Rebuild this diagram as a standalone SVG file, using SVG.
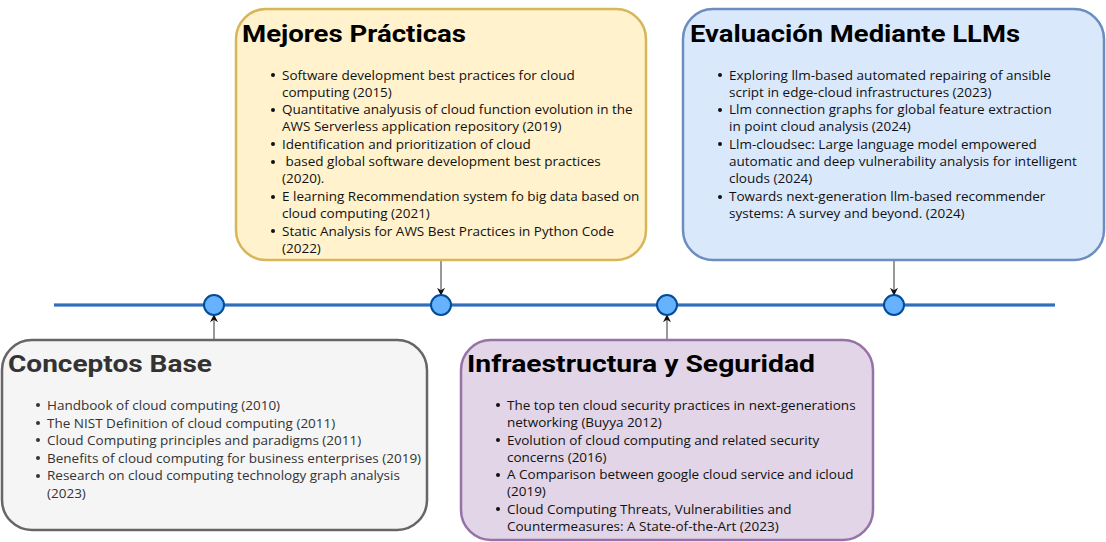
<svg xmlns="http://www.w3.org/2000/svg" width="1106" height="542" viewBox="0 0 1106 542">
<defs>
<style>
.title{font-family:Roboto,"Liberation Sans",sans-serif;font-weight:bold;font-size:24px;fill:#000}
.body{font-family:"Open Sans","Liberation Sans",sans-serif;font-size:13.5px;fill:#111}
.dot{fill:#111}
.conn{stroke:#333;stroke-width:1;fill:none;marker-end:url(#arr)}
.node{fill:#66B2FF;stroke:#004C99;stroke-width:2}
</style>
<marker id="arr" viewBox="0 0 10 10" refX="9" refY="5" markerWidth="8" markerHeight="8" orient="auto" markerUnits="userSpaceOnUse">
<path d="M0,0 L10,5 L0,10 L3,5 Z" fill="#111"/>
</marker>
</defs>
<rect width="1106" height="542" fill="#fff"/>

<g id="timeline">
<line x1="54" y1="305" x2="1055" y2="305" stroke="#7EA6E0" stroke-width="4"/>
<line x1="54" y1="305" x2="1055" y2="305" stroke="#1A5CA8" stroke-width="1.5"/>
</g>

<g id="connectors">
<line class="conn" x1="441" y1="261" x2="441" y2="295"/>
<line class="conn" x1="894" y1="261" x2="894" y2="295"/>
<line class="conn" x1="214" y1="340" x2="214" y2="315"/>
<line class="conn" x1="667" y1="340" x2="667" y2="315"/>
</g>

<g id="points">
<ellipse class="node" cx="214" cy="305" rx="10" ry="10"/>
<ellipse class="node" cx="441" cy="305" rx="10" ry="10"/>
<ellipse class="node" cx="667" cy="305" rx="10" ry="10"/>
<ellipse class="node" cx="894" cy="305" rx="10" ry="10"/>
</g>

<g id="mejores">
<rect x="236" y="9" width="410" height="251" rx="30" ry="30" fill="#FFF2CC" stroke="#D6B656" stroke-width="2.5"/>
<text class="title" x="242" y="42" textLength="224" lengthAdjust="spacingAndGlyphs">Mejores Prácticas</text>
<g class="body">
<circle class="dot" cx="273" cy="75" r="2"/><text x="282" y="80">Software development best practices for cloud</text>
<text x="282" y="97">computing (2015)</text>
<circle class="dot" cx="273" cy="110" r="2"/><text x="282" y="114">Quantitative analyusis of cloud function evolution in the</text>
<text x="282" y="131">AWS Serverless application repository (2019)</text>
<circle class="dot" cx="273" cy="144" r="2"/><text x="282" y="149">Identification and prioritization of cloud</text>
<circle class="dot" cx="273" cy="162" r="2"/><text x="282" y="166" xml:space="preserve"> based global software development best practices</text>
<text x="282" y="183">(2020).</text>
<circle class="dot" cx="273" cy="197" r="2"/><text x="282" y="201">E learning Recommendation system fo big data based on</text>
<text x="282" y="218">cloud computing (2021)</text>
<circle class="dot" cx="273" cy="231" r="2"/><text x="282" y="236">Static Analysis for AWS Best Practices in Python Code</text>
<text x="282" y="253">(2022)</text>
</g>
</g>

<g id="evaluacion">
<rect x="683" y="9" width="421" height="251" rx="30" ry="30" fill="#DAE8FC" stroke="#6C8EBF" stroke-width="2.5"/>
<text class="title" x="690" y="42" textLength="330" lengthAdjust="spacingAndGlyphs">Evaluación Mediante LLMs</text>
<g class="body">
<circle class="dot" cx="720" cy="75" r="2"/><text x="729" y="80">Exploring llm-based automated repairing of ansible</text>
<text x="729" y="97">script in edge-cloud infrastructures (2023)</text>
<circle class="dot" cx="720" cy="110" r="2"/><text x="729" y="114">Llm connection graphs for global feature extraction</text>
<text x="729" y="131">in point cloud analysis (2024)</text>
<circle class="dot" cx="720" cy="144" r="2"/><text x="729" y="149">Llm-cloudsec: Large language model empowered</text>
<text x="729" y="166">automatic and deep vulnerability analysis for intelligent</text>
<text x="729" y="183">clouds (2024)</text>
<circle class="dot" cx="720" cy="197" r="2"/><text x="729" y="201">Towards next-generation llm-based recommender</text>
<text x="729" y="218">systems: A survey and beyond. (2024)</text>
</g>
</g>

<g id="conceptos">
<rect x="2" y="340" width="425" height="190" rx="30" ry="30" fill="#F5F5F5" stroke="#666666" stroke-width="2.5"/>
<text class="title" x="8" y="372" textLength="204" lengthAdjust="spacingAndGlyphs" style="fill:#333">Conceptos Base</text>
<g class="body" style="fill:#333">
<circle class="dot" cx="38" cy="405" r="2" style="fill:#333"/><text x="47" y="410">Handbook of cloud computing (2010)</text>
<circle class="dot" cx="38" cy="423" r="2" style="fill:#333"/><text x="47" y="428">The NIST Definition of cloud computing (2011)</text>
<circle class="dot" cx="38" cy="440" r="2" style="fill:#333"/><text x="47" y="445">Cloud Computing principles and paradigms (2011)</text>
<circle class="dot" cx="38" cy="458" r="2" style="fill:#333"/><text x="47" y="463">Benefits of cloud computing for business enterprises (2019)</text>
<circle class="dot" cx="38" cy="476" r="2" style="fill:#333"/><text x="47" y="480">Research on cloud computing technology graph analysis</text>
<text x="47" y="498">(2023)</text>
</g>
</g>

<g id="infraestructura">
<rect x="461" y="340" width="412" height="200" rx="30" ry="30" fill="#E1D5E7" stroke="#9673A6" stroke-width="2.5"/>
<text class="title" x="467" y="372" textLength="348" lengthAdjust="spacingAndGlyphs">Infraestructura y Seguridad</text>
<g class="body">
<circle class="dot" cx="498" cy="405" r="2"/><text x="507" y="410">The top ten cloud security practices in next-generations</text>
<text x="507" y="427">networking (Buyya 2012)</text>
<circle class="dot" cx="498" cy="440" r="2"/><text x="507" y="445">Evolution of cloud computing and related security</text>
<text x="507" y="462">concerns (2016)</text>
<circle class="dot" cx="498" cy="475" r="2"/><text x="507" y="479">A Comparison between google cloud service and icloud</text>
<text x="507" y="496">(2019)</text>
<circle class="dot" cx="498" cy="509" r="2"/><text x="507" y="514">Cloud Computing Threats, Vulnerabilities and</text>
<text x="507" y="531">Countermeasures: A State-of-the-Art (2023)</text>
</g>
</g>
</svg>
